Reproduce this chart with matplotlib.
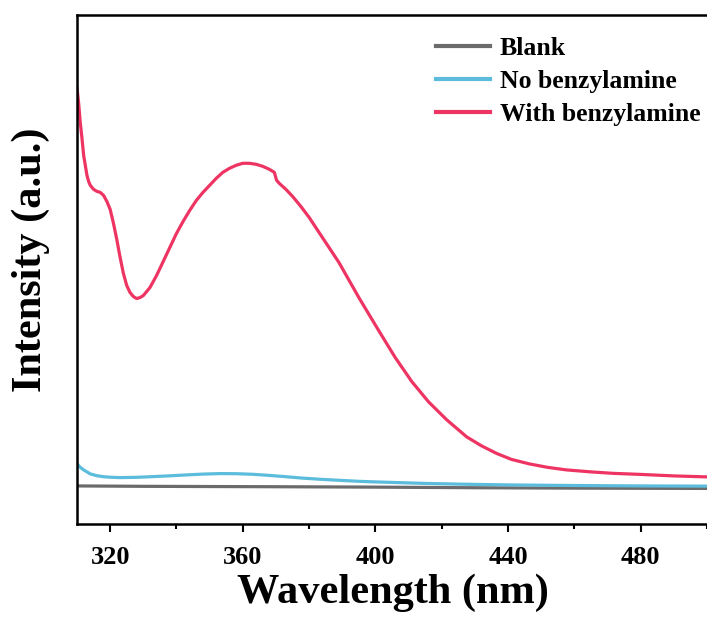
import matplotlib
matplotlib.use("Agg")
import matplotlib.pyplot as plt
from matplotlib.ticker import MultipleLocator

# ---- data (intensity in arbitrary units) ----
blank_x = [310, 330, 350, 370, 400, 430, 460, 500]
blank_y = [38.0, 37.6, 37.4, 37.2, 36.8, 36.2, 35.8, 35.5]

nob_x = [310, 311, 312, 314, 316, 318, 320, 323, 328, 333, 338, 343, 348, 353,
         358, 363, 368, 373, 378, 383, 388, 395, 400, 407, 415, 425, 440, 460, 480, 500]
nob_y = [60.0, 56.5, 54.0, 50.0, 48.2, 47.2, 46.7, 46.3, 46.6, 47.3, 48.1, 49.0, 49.8, 50.3,
         50.2, 49.6, 48.5, 47.2, 45.8, 44.7, 43.8, 42.6, 42.0, 41.3, 40.5, 39.8, 39.0, 38.4, 38.0, 37.8]

withb_x = [310, 310.5, 311, 311.5, 312, 312.5, 313, 313.5, 314, 315, 316, 317, 318, 319, 320,
           321, 322, 323, 324, 325, 326, 327, 328, 329, 330, 332, 334, 336, 338, 340,
           342, 344, 346, 348, 350, 352, 354, 356, 358, 360, 362, 364, 366, 368, 369.5,
           370.2, 371, 373, 375, 377.5, 380, 384, 389, 395, 401, 406, 411, 416,
           421.5, 427.5, 432, 436.5, 441, 446.4, 452, 457.6, 465, 472, 480, 490, 500]
withb_y = [435, 420, 400, 385, 368, 358, 348, 342, 338, 334, 332, 331, 328, 322, 314,
           300, 284, 266, 250, 238, 231, 227, 225, 226, 228, 236, 248, 262, 276, 290,
           302, 313, 323, 331, 338, 345, 351, 355, 358, 360, 360, 359, 357, 354, 351,
           343, 340, 334, 327, 317, 306, 286, 261, 226, 193, 166, 142, 122,
           104, 87, 78, 70.5, 64.5, 60, 56.5, 54, 52, 50.5, 49.5, 48, 47]

labels = ["Blank", "No benzylamine", "With benzylamine"]
colors = ["#6b6b6b", "#5bbddb", "#ee3462"]

# ---- figure ----
plt.rcParams['font.family'] = ['Liberation Serif', 'DejaVu Serif']
plt.rcParams['font.weight'] = 'bold'

W, H = 707, 617
fig = plt.figure(figsize=(W / 100, H / 100), dpi=100)
ax = fig.add_axes([77 / W, 1 - 524 / H, 1 - 77 / W, (524 - 15) / H])

ax.plot(blank_x, blank_y, color=colors[0], lw=2.3, label=labels[0])
ax.plot(nob_x, nob_y, color=colors[1], lw=2.3, label=labels[1])
ax.plot(withb_x, withb_y, color=colors[2], lw=2.3, label=labels[2])

ax.set_xlim(310, 500)
ax.set_ylim(0, 508)

ax.set_xticks([320, 360, 400, 440, 480])
ax.xaxis.set_minor_locator(MultipleLocator(20))
ax.tick_params(axis='x', which='major', direction='out', length=6, width=1.5,
               labelsize=19, pad=9.5)
ax.tick_params(axis='x', which='minor', direction='out', length=3.8, width=1.5)
ax.set_yticks([])
for lab in ax.get_xticklabels():
    lab.set_fontweight('bold')

for s in ['left', 'bottom', 'top']:
    ax.spines[s].set_linewidth(1.8)
ax.spines['right'].set_visible(False)

fig.text(392.5 / W, 1 - 593 / H, "Wavelength (nm)", fontsize=30.5, fontweight='bold',
         ha='center', va='center')
fig.text(31 / W, 1 - 260 / H, "Intensity (a.u.)", fontsize=30.5, fontweight='bold',
         ha='center', va='center', rotation=90)

leg = ax.legend(loc='upper right', bbox_to_anchor=(1.014, 0.988), frameon=False,
                fontsize=18.5, handlelength=2.1, handletextpad=0.4,
                labelspacing=0.4, borderaxespad=0.2)
for line in leg.get_lines():
    line.set_linewidth(3)

fig.savefig("out.png", dpi=100)
